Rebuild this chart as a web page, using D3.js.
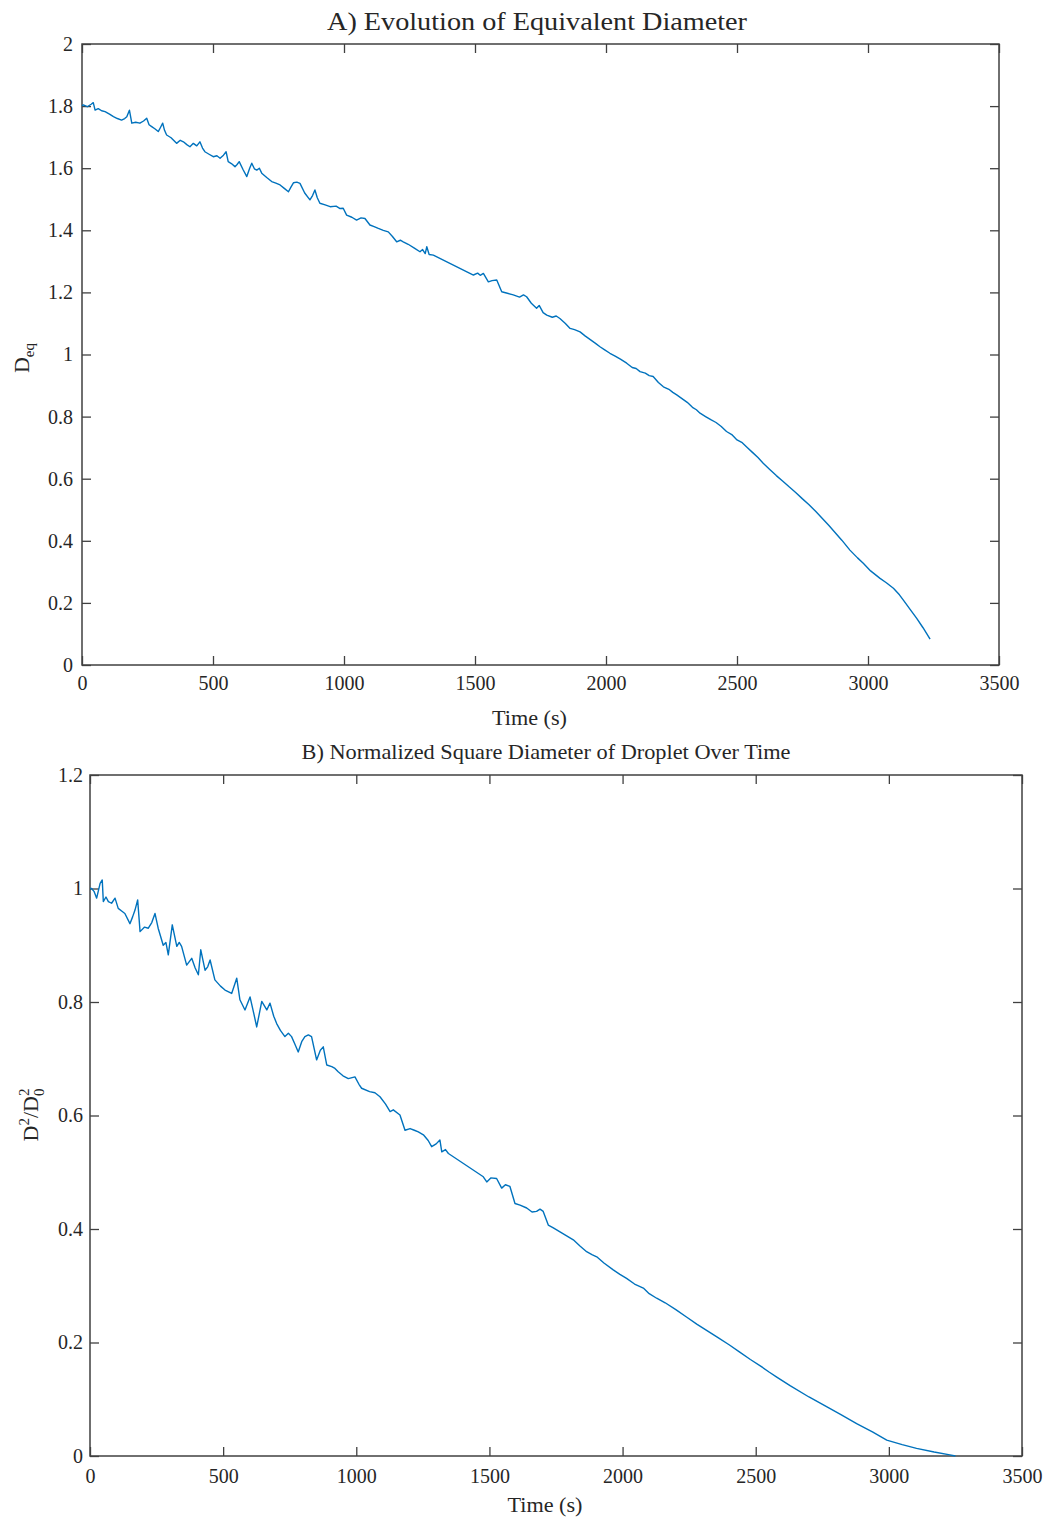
<!DOCTYPE html>
<html>
<head>
<meta charset="utf-8">
<script src="https://cdn.jsdelivr.net/npm/d3@7"></script>
<style>
  body { margin: 0; background: #fff; }
  svg { display: block; }
  text { font-family: "Liberation Serif", "Times New Roman", serif; fill: #262626; }
</style>
</head>
<body>
<div id="chart"></div>
<script>
// values
var timeA = [0, 5, 20, 35, 43, 50, 62, 75, 88, 105, 120, 135, 151, 163, 171, 181, 190, 205, 221, 235,
  247, 256, 266, 278, 291, 300, 308, 315, 323, 340, 361, 375, 387, 400, 412, 425, 438, 450, 460, 469,
  485, 501, 515, 527, 540, 550, 558, 570, 584, 592, 600, 615, 629, 640, 648, 658, 667, 677, 686, 705,
  724, 740, 756, 772, 788, 798, 807, 820, 832, 850, 870, 880, 889, 898, 908, 928, 947, 970, 985, 997,
  1010, 1030, 1048, 1065, 1080, 1099, 1115, 1131, 1150, 1169, 1185, 1201, 1215, 1226, 1245, 1270, 1290, 1300, 1310, 1316,
  1325, 1341, 1494, 1510, 1520, 1532, 1551, 1565, 1583, 1602, 1620, 1646, 1670, 1685, 1697, 1715, 1735, 1745, 1760, 1774,
  1795, 1810, 1824, 1845, 1863, 1880, 1901, 1920, 1940, 1960, 1977, 1995, 2015, 2035, 2055, 2079, 2100, 2115, 2130, 2150,
  2165, 2180, 2200, 2219, 2240, 2255, 2270, 2290, 2310, 2330, 2345, 2359, 2380, 2400, 2420, 2440, 2460, 2480, 2500, 2520,
  2540, 2560, 2580, 2600, 2625, 2650, 2675, 2700, 2725, 2750, 2775, 2800, 2850, 2900, 2931, 2960, 2982, 3010, 3046, 3070,
  3097, 3120, 3135, 3160, 3186, 3210, 3237];
var deqA = [1.800, 1.804, 1.798, 1.806, 1.811, 1.787, 1.792, 1.785, 1.782, 1.774, 1.766, 1.760, 1.755, 1.760, 1.766, 1.787, 1.745, 1.748, 1.745, 1.752,
  1.761, 1.740, 1.734, 1.727, 1.718, 1.732, 1.745, 1.722, 1.707, 1.698, 1.680, 1.690, 1.685, 1.676, 1.669, 1.680, 1.672, 1.685, 1.665, 1.653,
  1.645, 1.637, 1.640, 1.632, 1.642, 1.653, 1.621, 1.615, 1.605, 1.612, 1.621, 1.595, 1.573, 1.600, 1.616, 1.598, 1.594, 1.600, 1.584, 1.570,
  1.557, 1.552, 1.546, 1.535, 1.524, 1.540, 1.553, 1.555, 1.551, 1.520, 1.498, 1.512, 1.530, 1.505, 1.487, 1.482, 1.476, 1.478, 1.470, 1.471,
  1.449, 1.442, 1.433, 1.440, 1.438, 1.417, 1.412, 1.406, 1.400, 1.395, 1.380, 1.363, 1.368, 1.363, 1.355, 1.342, 1.331, 1.338, 1.325, 1.347,
  1.322, 1.320, 1.256, 1.262, 1.255, 1.261, 1.234, 1.238, 1.240, 1.202, 1.198, 1.192, 1.185, 1.192, 1.186, 1.165, 1.149, 1.158, 1.135, 1.127,
  1.120, 1.124, 1.116, 1.100, 1.084, 1.080, 1.073, 1.060, 1.048, 1.036, 1.025, 1.015, 1.004, 0.995, 0.985, 0.972, 0.958, 0.955, 0.945, 0.940,
  0.932, 0.929, 0.910, 0.896, 0.888, 0.878, 0.870, 0.858, 0.846, 0.830, 0.822, 0.811, 0.800, 0.790, 0.781, 0.768, 0.752, 0.742, 0.725, 0.716,
  0.700, 0.684, 0.668, 0.650, 0.630, 0.610, 0.592, 0.573, 0.555, 0.535, 0.516, 0.495, 0.450, 0.402, 0.370, 0.345, 0.328, 0.303, 0.279, 0.265,
  0.247, 0.226, 0.209, 0.180, 0.150, 0.120, 0.083];

var timeB = [0, 6, 15, 25, 38, 46, 50, 60, 69, 81, 94, 106, 120, 131, 150, 160, 169, 179, 188, 205,
  219, 232, 244, 256, 275, 285, 294, 309, 326, 335, 344, 363, 382, 395, 407, 416, 432, 442, 451, 469,
  490, 507, 532, 551, 563, 582, 601, 615, 626, 645, 664, 676, 690, 701, 715, 732, 745, 757, 770, 782,
  795, 807, 820, 832, 851, 865, 876, 889, 908, 920, 932, 950, 970, 995, 1010, 1020, 1050, 1070, 1089, 1110,
  1127, 1139, 1164, 1183, 1202, 1218, 1233, 1252, 1270, 1283, 1300, 1314, 1321, 1335, 1346, 1477, 1490, 1505, 1527, 1546,
  1560, 1577, 1596, 1615, 1640, 1660, 1677, 1690, 1702, 1721, 1740, 1765, 1790, 1815, 1840, 1865, 1885, 1903, 1930, 1965,
  1990, 2015, 2045, 2078, 2100, 2128, 2160, 2200, 2240, 2280, 2320, 2360, 2400, 2440, 2480, 2520, 2550, 2579, 2629, 2700,
  2766, 2820, 2879, 2940, 2992, 3050, 3104, 3170, 3229, 3250];
var normB = [1.000, 1.000, 0.995, 0.983, 1.009, 1.015, 0.977, 0.985, 0.977, 0.974, 0.983, 0.965, 0.960, 0.956, 0.938, 0.950, 0.962, 0.980, 0.924, 0.932,
  0.930, 0.940, 0.956, 0.930, 0.900, 0.905, 0.883, 0.936, 0.898, 0.905, 0.898, 0.865, 0.877, 0.860, 0.848, 0.892, 0.856, 0.862, 0.874, 0.839,
  0.828, 0.821, 0.815, 0.842, 0.804, 0.786, 0.809, 0.780, 0.756, 0.801, 0.786, 0.798, 0.775, 0.762, 0.750, 0.739, 0.745, 0.739, 0.725, 0.712,
  0.730, 0.739, 0.742, 0.739, 0.698, 0.715, 0.721, 0.689, 0.686, 0.683, 0.677, 0.670, 0.665, 0.668, 0.655, 0.648, 0.642, 0.640, 0.633, 0.620,
  0.607, 0.610, 0.601, 0.574, 0.577, 0.574, 0.571, 0.566, 0.556, 0.545, 0.550, 0.557, 0.536, 0.540, 0.533, 0.492, 0.483, 0.490, 0.489, 0.472,
  0.478, 0.475, 0.445, 0.442, 0.437, 0.430, 0.431, 0.435, 0.431, 0.407, 0.402, 0.395, 0.388, 0.381, 0.370, 0.360, 0.355, 0.351, 0.340, 0.328,
  0.320, 0.313, 0.303, 0.296, 0.286, 0.278, 0.270, 0.258, 0.245, 0.232, 0.220, 0.208, 0.196, 0.183, 0.170, 0.158, 0.148, 0.139, 0.124, 0.104,
  0.087, 0.073, 0.057, 0.042, 0.028, 0.020, 0.0135, 0.007, 0.002, 0.000];

var timeTicks = [0, 500, 1000, 1500, 2000, 2500, 3000, 3500];
var deqTicks = [0, 0.2, 0.4, 0.6, 0.8, 1, 1.2, 1.4, 1.6, 1.8, 2];
var normTicks = [0, 0.2, 0.4, 0.6, 0.8, 1, 1.2];

var svg = d3.select('#chart').append('svg')
  .attr('width', 1049)
  .attr('height', 1524);

function drawPanel(cfg) {
  var x = d3.scaleLinear().domain([0, 3500]).range([cfg.left, cfg.right]);
  var y = d3.scaleLinear().domain(cfg.yDomain).range([cfg.bottom, cfg.top]);
  var w = cfg.right - cfg.left, h = cfg.bottom - cfg.top;
  var tick = 9;

  var g = svg.append('g');

  var axisStyle = function (sel) {
    sel.select('.domain').remove();
    sel.selectAll('line').attr('stroke', '#404040').attr('stroke-width', 1.3);
    sel.selectAll('text').attr('font-size', 20).attr('fill', '#262626')
      .style('font-family', '"Liberation Serif", serif');
  };

  // bottom & left carry the labels, all ticks point inward
  g.append('g').attr('transform', 'translate(0,' + cfg.bottom + ')')
    .call(d3.axisBottom(x).tickValues(timeTicks).tickFormat(d3.format('d'))
      .tickSizeInner(-tick).tickSizeOuter(0).tickPadding(cfg.xPad))
    .call(axisStyle);
  g.append('g').attr('transform', 'translate(' + cfg.left + ',0)')
    .call(d3.axisLeft(y).tickValues(cfg.yTicks).tickFormat(d3.format('~g'))
      .tickSizeInner(-tick).tickSizeOuter(0).tickPadding(cfg.yPad))
    .call(axisStyle);
  // top & right: ticks only
  g.append('g').attr('transform', 'translate(0,' + cfg.top + ')')
    .call(d3.axisTop(x).tickValues(timeTicks).tickFormat('').tickSizeInner(-tick).tickSizeOuter(0))
    .call(axisStyle);
  g.append('g').attr('transform', 'translate(' + cfg.right + ',0)')
    .call(d3.axisRight(y).tickValues(cfg.yTicks).tickFormat('').tickSizeInner(-tick).tickSizeOuter(0))
    .call(axisStyle);

  g.append('rect')
    .attr('x', cfg.left).attr('y', cfg.top)
    .attr('width', w).attr('height', h)
    .attr('fill', 'none').attr('stroke', '#404040').attr('stroke-width', 1.5);

  var line = d3.line()
    .x(function (d) { return x(d[0]); })
    .y(function (d) { return y(d[1]); });

  g.append('path')
    .datum(d3.zip(cfg.xs, cfg.ys))
    .attr('d', line)
    .attr('fill', 'none')
    .attr('stroke', '#0072BD')
    .attr('stroke-width', 1.4)
    .attr('stroke-linejoin', 'round');

  g.append('text')
    .attr('x', cfg.titleX).attr('y', cfg.titleY)
    .attr('text-anchor', 'middle')
    .attr('font-size', cfg.titleSize)
    .attr('textLength', cfg.titleLen)
    .attr('lengthAdjust', 'spacingAndGlyphs')
    .text(cfg.title);

  g.append('text')
    .attr('x', (cfg.left + cfg.right) / 2 - 11).attr('y', cfg.xLabelY)
    .attr('text-anchor', 'middle')
    .attr('font-size', 21)
    .attr('textLength', 75)
    .attr('lengthAdjust', 'spacingAndGlyphs')
    .text('Time (s)');

  return g;
}

drawPanel({
  left: 82, right: 999, top: 44, bottom: 665,
  yDomain: [0, 2], yTicks: deqTicks, yPad: 9, xPad: 11,
  xs: timeA, ys: deqA,
  title: 'A) Evolution of Equivalent Diameter',
  titleX: 537, titleY: 30, titleSize: 25, titleLen: 420,
  xLabelY: 725
});

drawPanel({
  left: 90, right: 1022, top: 775, bottom: 1456,
  yDomain: [0, 1.2], yTicks: normTicks, yPad: 7, xPad: 13,
  xs: timeB, ys: normB,
  title: 'B) Normalized Square Diameter of Droplet Over Time',
  titleX: 546, titleY: 759, titleSize: 22, titleLen: 489,
  xLabelY: 1512
});

// y labels
var labA = svg.append('text')
  .attr('transform', 'translate(29,358) rotate(-90)')
  .attr('text-anchor', 'middle')
  .attr('font-size', 22);
labA.append('tspan').text('D');
labA.append('tspan').attr('font-size', 15).attr('dy', 5).text('eq');

var labB = svg.append('text')
  .attr('transform', 'translate(38,1115) rotate(-90)')
  .attr('text-anchor', 'middle')
  .attr('font-size', 22);
labB.append('tspan').text('D');
labB.append('tspan').attr('font-size', 15).attr('dy', -9).text('2');
labB.append('tspan').attr('dy', 9).text('/D');
labB.append('tspan').attr('font-size', 15).attr('dy', -9).text('2');
labB.append('tspan').attr('font-size', 15).attr('dx', -7.5).attr('dy', 15).text('0');
</script>
</body>
</html>
